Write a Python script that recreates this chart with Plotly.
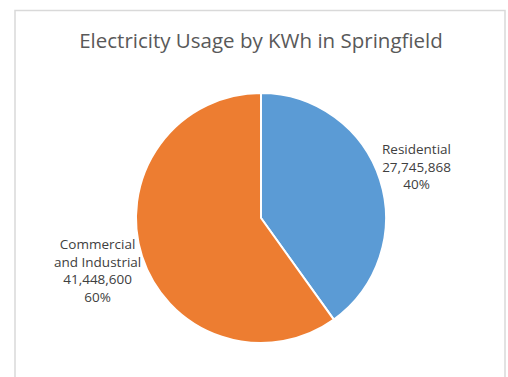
import plotly.graph_objects as go

categories = ["Residential", "Commercial<br>and Industrial"]
values = [27745868, 41448600]
colors = ["#5B9BD5", "#ED7D31"]

W, H = 508, 377
cx, cy, r = 261, 218, 125

total = sum(values)
fig = go.Figure(go.Pie(
    labels=[c.replace("<br>", " ") for c in categories],
    values=values,
    sort=False,
    direction="clockwise",
    rotation=0,
    textinfo="none",
    hoverinfo="label+value+percent",
    marker=dict(colors=colors, line=dict(color="white", width=2)),
    showlegend=False,
    domain=dict(x=[(cx - r) / W, (cx + r) / W],
                y=[(H - cy - r) / H, (H - cy + r) / H]),
))

label_pos = [(416, 166), (97, 270)]
for cat, v, (lx, ly) in zip(categories, values, label_pos):
    pct = round(100 * v / total)
    fig.add_annotation(
        text=f"{cat}<br>{v:,}<br>{pct}%",
        x=lx / W, y=(H - ly) / H, xref="paper", yref="paper",
        xanchor="center", yanchor="middle", showarrow=False,
        font=dict(family="Open Sans, Liberation Sans, sans-serif", size=13.5, color="#404040"),
        align="center",
    )

fig.add_shape(type="rect", xref="paper", yref="paper",
              x0=15 / W, x1=505 / W, y0=-0.05, y1=(H - 10.5) / H,
              line=dict(color="#D9D9D9", width=1.5), fillcolor="rgba(0,0,0,0)", layer="below")

fig.update_layout(
    width=W, height=H,
    margin=dict(l=0, r=0, t=0, b=0),
    paper_bgcolor="white", plot_bgcolor="white",
    title=dict(text="Electricity Usage by KWh in Springfield",
               x=261 / W, xanchor="center", y=(H - 41) / H, yanchor="middle",
               font=dict(family="Open Sans, Liberation Sans, sans-serif", size=20.5, color="#595959")),
)

fig.write_html("out.html", config={"displayModeBar": False},
               post_script="document.body.style.margin='0';document.body.style.overflow='hidden';")
